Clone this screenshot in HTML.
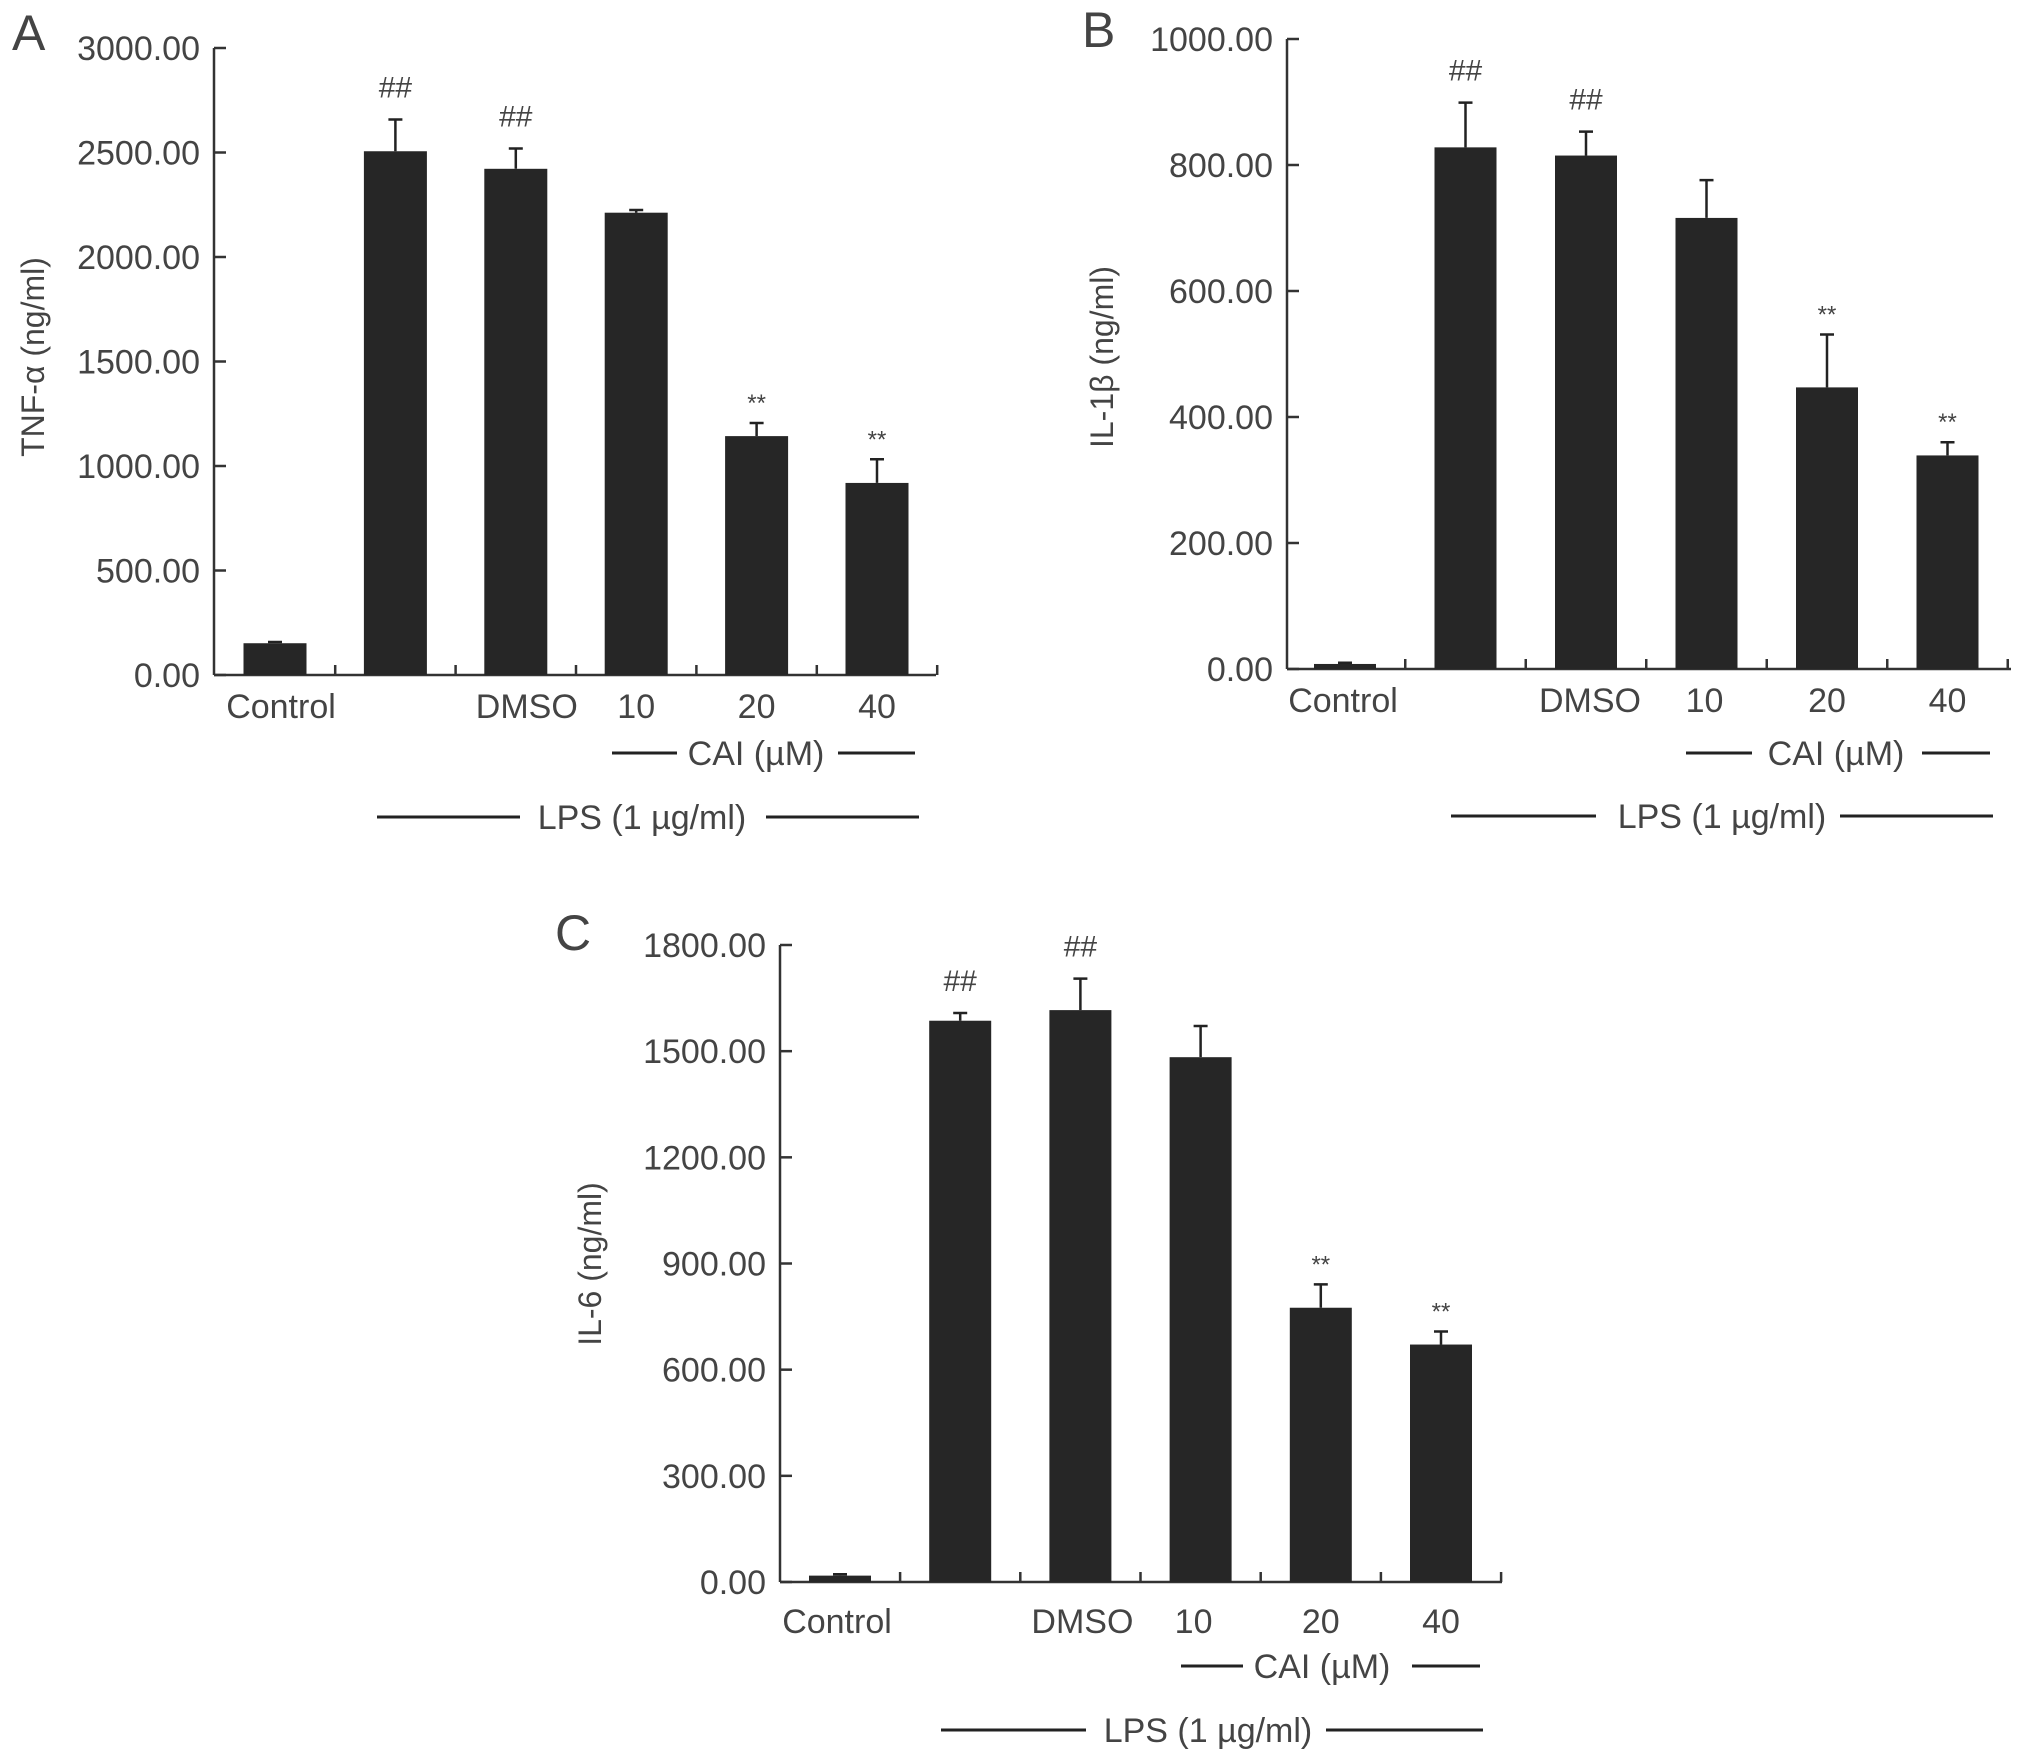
<!DOCTYPE html>
<html><head><meta charset="utf-8"><style>
html,body{margin:0;padding:0;background:#fff}
svg{display:block}
text{font-family:"Liberation Sans",sans-serif;fill:#444}
</style></head><body>
<svg id="fig" width="2032" height="1760" viewBox="0 0 2032 1760" xmlns="http://www.w3.org/2000/svg"></svg>
<script>
const categories = ["Control","","DMSO","10","20","40"];
const tnfValues = [152, 2506, 2422, 2212, 1143, 919];
const tnfErrors = [158, 2658, 2519, 2225, 1206, 1032];
const tnfTicks = [0, 500, 1000, 1500, 2000, 2500, 3000];
const tnfMarks = ["", "##", "##", "", "**", "**"];
const il1Values = [8, 828, 815, 716, 447, 339];
const il1Errors = [10, 899, 853, 776, 531, 360];
const il1Ticks = [0, 200, 400, 600, 800, 1000];
const il1Marks = ["", "##", "##", "", "**", "**"];
const il6Values = [18, 1586, 1616, 1483, 775, 671];
const il6Errors = [22, 1608, 1705, 1571, 841, 708];
const il6Ticks = [0, 300, 600, 900, 1200, 1500, 1800];
const il6Marks = ["", "##", "##", "", "**", "**"];

const NS = "http://www.w3.org/2000/svg";
const svg = document.getElementById("fig");
function mk(tag, attrs, parent, txt){
  const e = document.createElementNS(NS, tag);
  for (const k in attrs) e.setAttribute(k, attrs[k]);
  if (txt !== undefined) e.textContent = txt;
  (parent || svg).appendChild(e);
  return e;
}

function panel(p, vals, errs, ticks, marks){
  const g = mk("g", {});
  
  
  const max = ticks[ticks.length-1];
  const y = v => p.y0 - (v / max) * (p.y0 - p.y1);
  const xc = i => p.firstCenter + i * p.step;
  const L = mk("text", {x:p.letterX, y:p.letterY, "font-size":50, fill:"#222"}, g, p.letter);
  
  
  const ya = mk("line", {x1:p.ax, y1:y(max), x2:p.ax, y2:p.y0, stroke:"#333", "stroke-width":2.5}, g);
  
  
  const xa = mk("line", {x1:p.ax, y1:p.y0, x2:p.axEnd, y2:p.y0, stroke:"#333", "stroke-width":2.5}, g);
  
  
  ticks.forEach(t => {
    const tl = mk("line", {x1:p.ax, y1:y(t), x2:p.ax+12, y2:y(t), stroke:"#333", "stroke-width":2.5}, g);
    
    
    const tt = mk("text", {x:p.ax-14, y:y(t)+12, "text-anchor":"end", "font-size":34}, g, t.toFixed(2));
    
    
  });
  for (let i = 0; i < categories.length; i++){
    const bx = xc(i) + p.step/2;
    const xt = mk("line", {x1:bx, y1:p.y0, x2:bx, y2:p.y0-10, stroke:"#333", "stroke-width":2.5}, g);
    
    
  }
  const yl = mk("text", {x:0, y:0, "text-anchor":"middle", "font-size":32,
    transform:`translate(${p.ylabX},${p.ylabY}) rotate(-90)`}, g, p.ylabel);
  
  
  vals.forEach((v, i) => {
    const c = xc(i);
    const eb = mk("path", {d:`M${c},${y(v)} V${y(errs[i])} M${c-7},${y(errs[i])} H${c+7}`, stroke:"#222", "stroke-width":2.5, fill:"none"}, g);
    
    
    const r = mk("rect", {x:c-p.bw/2, y:y(v), width:p.bw, height:p.y0-y(v), fill:"#262626"}, g);
    
    
    if (marks[i]){
      const isHash = marks[i] === "##";
      const m = mk("text", {x:c, y:y(errs[i]) - (isHash ? 22 : 12), "text-anchor":"middle", "font-size": isHash ? 30 : 24}, g, marks[i]);
      
      
    }
    if (categories[i]){
      const lx = c + (p.labShift[i] || 0);
      const t = mk("text", {x:lx, y:p.labY, "text-anchor":"middle", "font-size":34}, g, categories[i]);
      
      
    }
  });
  [[p.cai, "CAI (\u00b5M)", "cai-bracket"], [p.lps, "LPS (1 \u00b5g/ml)", "lps-bracket"]].forEach(([b, txt, nm]) => {
    const bg = mk("g", {}, g);
    
    
    mk("line", {x1:b[0], y1:b[5], x2:b[1], y2:b[5], stroke:"#222", "stroke-width":3}, bg);
    mk("line", {x1:b[3], y1:b[5], x2:b[4], y2:b[5], stroke:"#222", "stroke-width":3}, bg);
    mk("text", {x:b[2], y:b[5]+12, "text-anchor":"middle", "font-size":34}, bg, txt);
  });
}

panel({letter:"A", letterX:12, letterY:50, ax:214, axEnd:936, y0:675, y1:48, firstCenter:275, step:120.4, bw:63,
  ylabel:"TNF-\u03b1 (ng/ml)", ylabX:44, ylabY:357, labY:718, labShift:[6,0,11,0,0,0],
  cai:[612,677,756,838,915,753], lps:[377,520,642,766,919,817]}, tnfValues, tnfErrors, tnfTicks, tnfMarks);
panel({letter:"B", letterX:1082, letterY:47, ax:1287, axEnd:2011, y0:669, y1:39, firstCenter:1345, step:120.5, bw:62,
  ylabel:"IL-1\u03b2 (ng/ml)", ylabX:1113, ylabY:357, labY:712, labShift:[-2,0,4,-2,0,0],
  cai:[1686,1752,1836,1922,1990,753], lps:[1451,1596,1722,1840,1993,816]}, il1Values, il1Errors, il1Ticks, il1Marks);
panel({letter:"C", letterX:555, letterY:950, ax:780, axEnd:1502, y0:1582, y1:945, firstCenter:840, step:120.2, bw:62,
  ylabel:"IL-6 (ng/ml)", ylabX:601, ylabY:1264, labY:1633, labShift:[-3,0,2,-7,0,0],
  cai:[1181,1243,1322,1412,1480,1666], lps:[941,1086,1208,1326,1483,1730]}, il6Values, il6Errors, il6Ticks, il6Marks);
</script>
</body></html>
